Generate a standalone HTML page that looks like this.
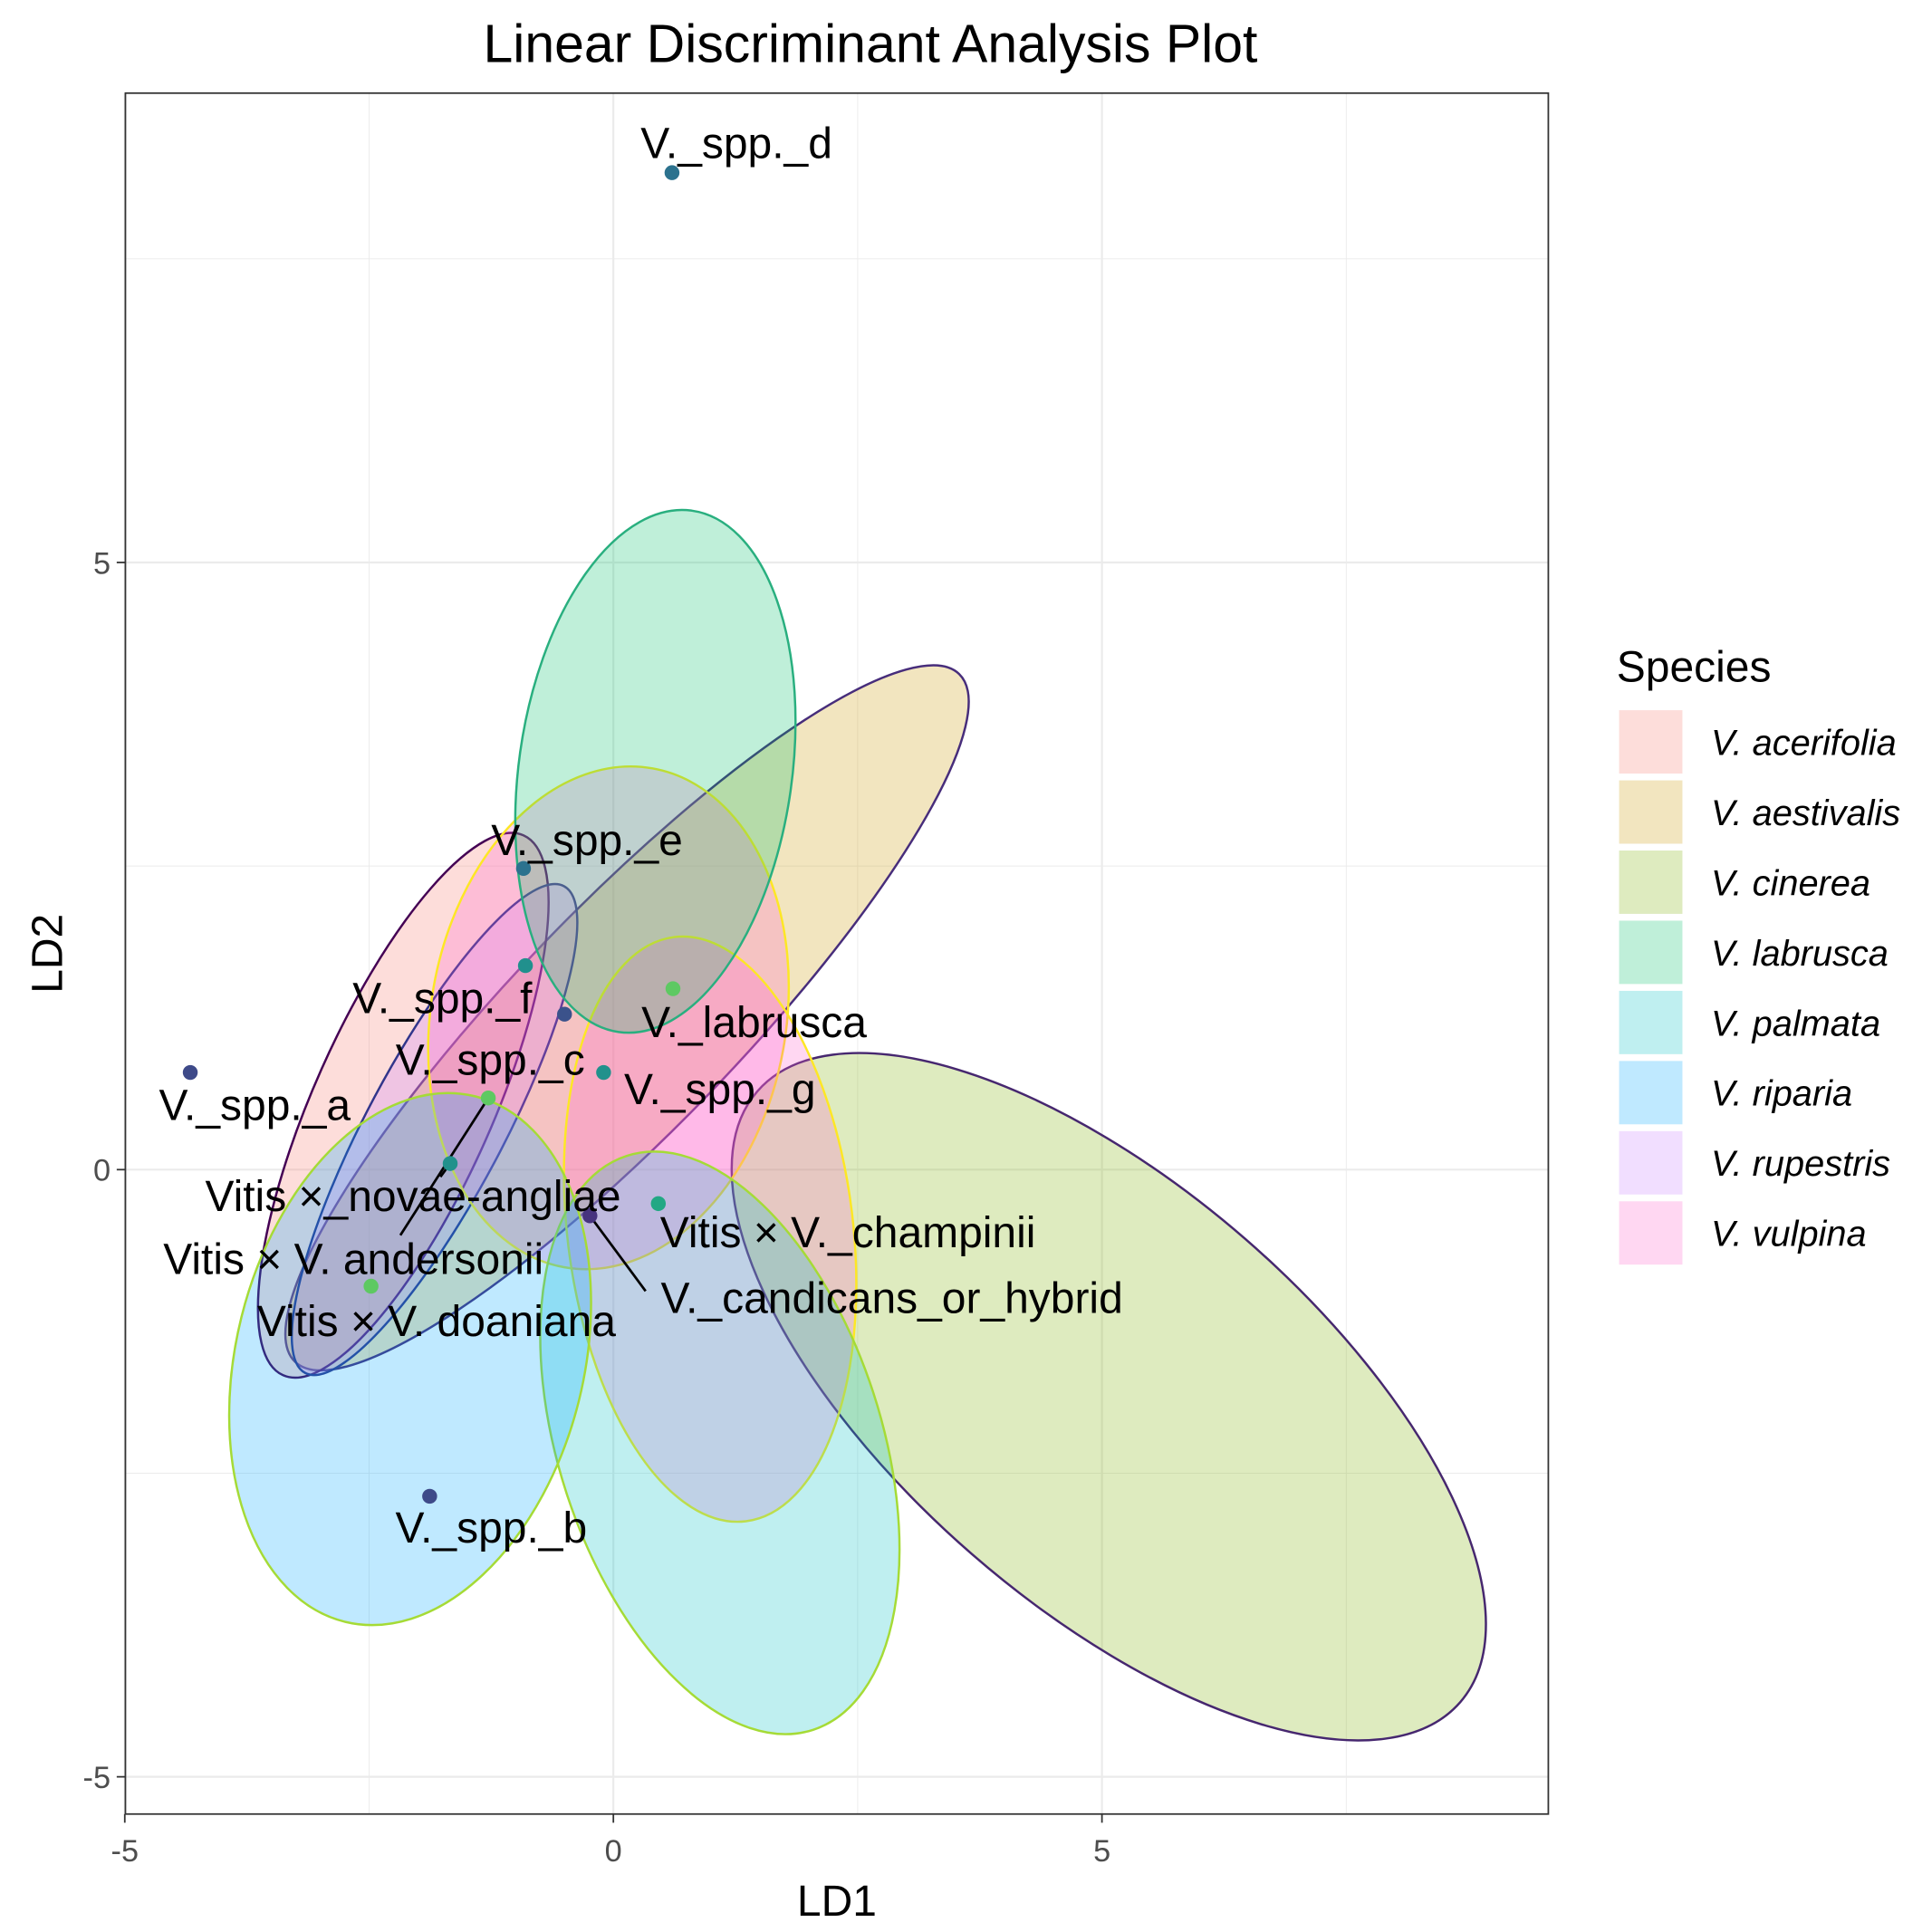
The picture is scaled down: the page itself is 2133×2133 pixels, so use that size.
<!DOCTYPE html>
<html><head><meta charset="utf-8"><style>
html,body{margin:0;padding:0;background:#fff;}
svg{display:block;font-family:"Liberation Sans",Arial,sans-serif;}
</style></head><body>
<svg id="chart" width="2133" height="2133" viewBox="0 0 1556 1556" xmlns="http://www.w3.org/2000/svg">
<rect x="0" y="0" width="1556" height="1556" fill="#fff"/>
<g id="grid"></g>
<g id="ellipses"></g>
<g id="segments"></g>
<g id="points"></g>
<g id="labels"></g>
<rect x="101" y="75" width="1146" height="1386" fill="none" stroke="#333" stroke-width="1.3"/>
<g id="axes"></g>
<text x="701" y="50" font-size="43" text-anchor="middle" fill="#000">Linear Discriminant Analysis Plot</text>
<text x="674" y="1543" font-size="35" text-anchor="middle" fill="#000">LD1</text>
<text x="50" y="768" font-size="35" text-anchor="middle" fill="#000" transform="rotate(-90 50 768)">LD2</text>
<g id="legend"></g>
</svg>
<script>
const xTicks=[-5,0,5];
const yTicks=[-5,0,5];
const xMinor=[-2.5,2.5,7.5];
const yMinor=[-2.5,2.5,7.5];
const species=["V. acerifolia","V. aestivalis","V. cinerea","V. labrusca","V. palmata","V. riparia","V. rupestris","V. vulpina"];
const speciesFill=["#F8766D","#CD9600","#7CAE00","#00BE67","#00BFC4","#00A9FF","#C77CFF","#FF61CC"];
// ellipses: group index, center LD1, center LD2, semi-axes, angle, stroke
const ellGroup=[1,2,0,6,7,7,3,4,5];
const ellCX=[0.14,5.07,-2.15,-1.83,-0.05,0.99,0.43,1.09,-2.08];
const ellCY=[1.25,-1.87,0.53,0.33,1.25,-0.49,3.28,-2.25,-1.56];
const ellRX=[385,375,238,222,143,115,110,130,140];
const ellRY=[90,168,72,55,204,237,212,243,218];
const ellRot=[-46,41,-66,-62,10,-7,8,-18,14];
const ellStroke=["#472d7b","#46276f","#440154","#31358b","#fde725","#fde725","#29af7f","#a5db36","#a5db36"];
// points
const ptX=[0.60,-0.92,-0.90,-0.50,0.61,-0.10,-4.33,-1.28,-1.67,-0.24,0.46,-2.48,-1.88];
const ptY=[8.21,2.48,1.68,1.28,1.49,0.80,0.80,0.59,0.05,-0.38,-0.28,-0.96,-2.69];
const ptColor=["#2c728e","#2c728e","#21908d","#3b528b","#5ec962","#21918c","#3e4a89","#5ec962","#21918c","#46337e","#22a884","#5ec962","#3e4a89"];
// labels
const labText=["V._spp._d","V._spp._e","V._spp._f","V._labrusca","V._spp._c","V._spp._g","V._spp._a","Vitis ×_novae-angliae","Vitis × V._champinii","Vitis × V. andersonii","V._candicans_or_hybrid","Vitis × V. doaniana","V._spp._b"];
const labX=[1.26,-0.27,-1.75,1.44,-1.26,1.09,-3.67,-2.05,2.40,-2.66,2.85,-1.81,-1.25];
const labY=[8.33,2.59,1.29,1.09,0.78,0.54,0.41,-0.34,-0.64,-0.86,-1.18,-1.37,-3.07];
// label connector segments (from point to label)
const segX1=[-1.28,-1.67,-0.24];
const segY1=[0.59,0.05,-0.38];
const segX2=[-2.18,-1.77,0.33];
const segY2=[-0.54,-0.06,-1.00];

const X=v=>494+78.7*v, Y=v=>942-97.8*v;
const NS="http://www.w3.org/2000/svg";
function mk(tag,parent,attrs){const e=document.createElementNS(NS,tag);for(const k in attrs)e.setAttribute(k,attrs[k]);document.getElementById(parent).appendChild(e);return e;}
xMinor.forEach(v=>{const l=mk('line','grid',{x1:X(v),x2:X(v),y1:75,y2:1461,stroke:'#ebebeb','stroke-width':0.7});

});
yMinor.forEach(v=>{const l=mk('line','grid',{x1:101,x2:1247,y1:Y(v),y2:Y(v),stroke:'#ebebeb','stroke-width':0.7});

});
xTicks.forEach(v=>{const l=mk('line','grid',{x1:X(v),x2:X(v),y1:75,y2:1461,stroke:'#ebebeb','stroke-width':1.6});


const t=mk('line','axes',{x1:X(v),x2:X(v),y1:1461,y2:1468,stroke:'#333','stroke-width':1.3});


const tx=mk('text','axes',{x:X(v),y:1499,'font-size':25,fill:'#4d4d4d','text-anchor':'middle'});tx.textContent=v;

});
yTicks.forEach(v=>{const l=mk('line','grid',{x1:101,x2:1247,y1:Y(v),y2:Y(v),stroke:'#ebebeb','stroke-width':1.6});


const t=mk('line','axes',{x1:94,x2:101,y1:Y(v),y2:Y(v),stroke:'#333','stroke-width':1.3});


const tx=mk('text','axes',{x:89,y:Y(v)+9,'font-size':25,fill:'#4d4d4d','text-anchor':'end'});tx.textContent=v;

});
ellGroup.forEach((g,i)=>{const cx=X(ellCX[i]),cy=Y(ellCY[i]);
const e=mk('ellipse','ellipses',{cx:cx,cy:cy,rx:ellRX[i],ry:ellRY[i],transform:`rotate(${ellRot[i]} ${cx} ${cy})`,fill:speciesFill[g],'fill-opacity':0.25,stroke:ellStroke[i],'stroke-width':1.8});

});
segX1.forEach((v,i)=>{const l=mk('line','segments',{x1:X(v),y1:Y(segY1[i]),x2:X(segX2[i]),y2:Y(segY2[i]),stroke:'#000','stroke-width':2});

});
ptX.forEach((v,i)=>{const c=mk('circle','points',{cx:X(v),cy:Y(ptY[i]),r:6,fill:ptColor[i]});

});
labText.forEach((s,i)=>{const t=mk('text','labels',{x:X(labX[i]),y:Y(labY[i]),'font-size':35,fill:'#000','text-anchor':'middle'});t.textContent=s;

});
const lt=mk('text','legend',{x:1302,y:549,'font-size':35,fill:'#000'});lt.textContent='Species';


species.forEach((s,i)=>{const y=572+i*56.5;
const r=mk('rect','legend',{x:1304,y:y,width:51,height:51,fill:speciesFill[i],'fill-opacity':0.25});


const t=mk('text','legend',{x:1378,y:y+36,'font-size':29,'font-style':'italic',fill:'#000'});t.textContent=s;

});
</script>
</body></html>
